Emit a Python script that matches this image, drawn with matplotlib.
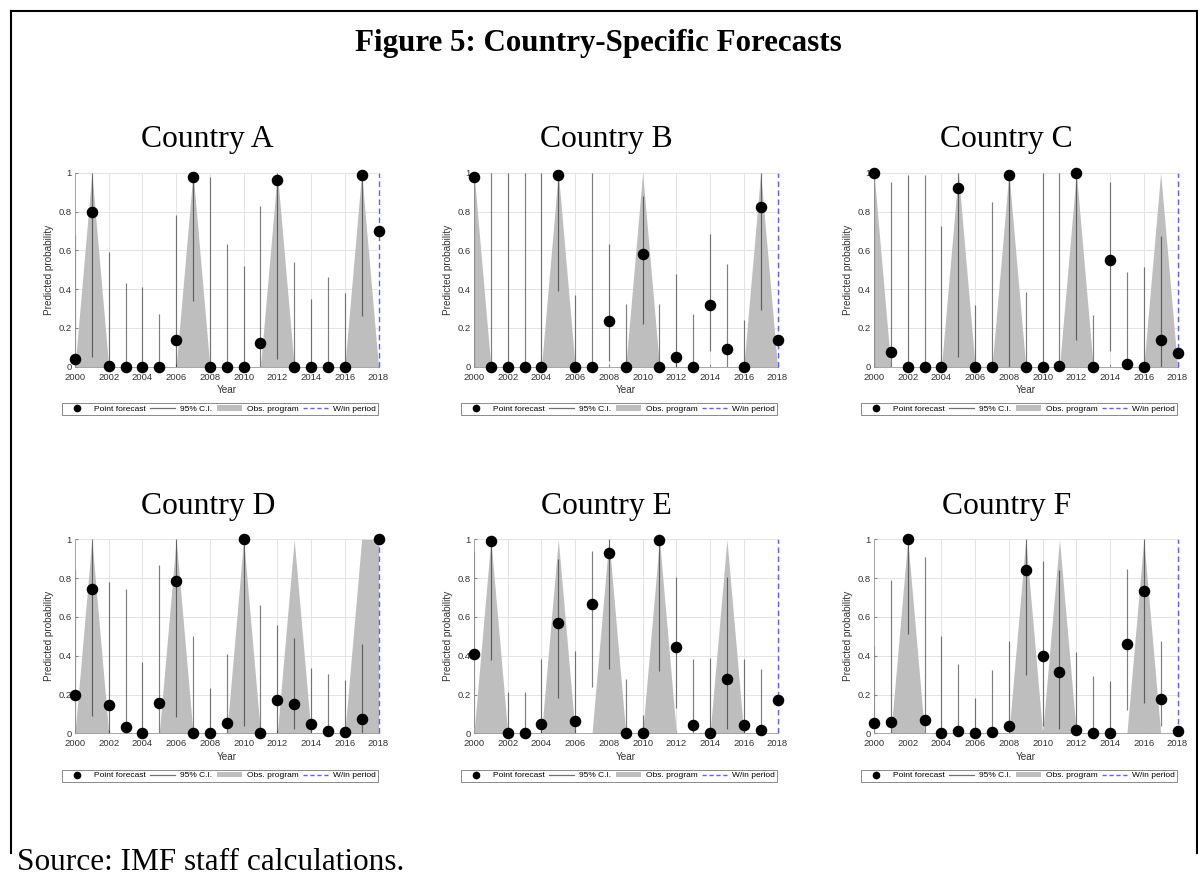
import numpy as np
import matplotlib
matplotlib.use("Agg")
import matplotlib.pyplot as plt
from matplotlib.lines import Line2D
from matplotlib.patches import Patch

nan = np.nan
years = list(range(2000, 2019))

# ---- Country A ----
a_point = [0.04, 0.795, 0.005, 0.0, 0.0, 0.0, 0.14, 0.98, 0.0, 0.0, 0.0, 0.12, 0.96, 0.0, 0.0, 0.0, 0.0, 0.99, 0.70]
a_low   = [0.0, 0.05, 0.0, 0.0, 0.0, 0.0, 0.0, 0.34, 0.0, 0.0, 0.0, 0.0, 0.04, 0.0, 0.0, 0.0, 0.0, 0.26, nan]
a_high  = [0.68, 1.0, 0.59, 0.43, 0.41, 0.27, 0.78, 1.0, 0.98, 0.63, 0.52, 0.83, 1.0, 0.54, 0.35, 0.46, 0.38, 1.0, nan]
a_prog  = [0, 1, 0, 0, 0, 0, 0, 1, 0, 0, 0, 0, 1, 0, 0, 0, 0, 1, 0]

# ---- Country B ----
b_point = [0.98, 0.0, 0.0, 0.0, 0.0, 0.99, 0.0, 0.0, 0.235, 0.0, 0.58, 0.0, 0.048, 0.0, 0.32, 0.09, 0.0, 0.825, 0.14]
b_low   = [0.0, 0.0, 0.0, 0.0, 0.0, 0.39, 0.0, 0.0, 0.03, 0.0, 0.22, 0.0, 0.0, 0.0, 0.08, 0.0, 0.0, 0.29, nan]
b_high  = [1.0, 1.0, 1.0, 1.0, 1.0, 1.0, 0.37, 1.0, 0.635, 0.325, 0.88, 0.325, 0.48, 0.27, 0.685, 0.53, 0.24, 1.0, nan]
b_prog  = [1, 0, 0, 0, 0, 1, 0, 0, 0, 0, 1, 0, 0, 0, 0, 0, 0, 1, 0]

# ---- Country C ----
c_point = [1.0, 0.075, 0.0, 0.0, 0.0, 0.92, 0.0, 0.0, 0.99, 0.0, 0.0, 0.005, 1.0, 0.0, 0.55, 0.015, 0.0, 0.14, 0.07]
c_low   = [0.0, 0.0, 0.0, 0.0, 0.0, 0.05, 0.0, 0.0, 0.0, 0.0, 0.0, 0.0, 0.14, 0.0, 0.08, 0.0, 0.0, 0.0, nan]
c_high  = [1.0, 0.95, 0.99, 0.99, 0.725, 1.0, 0.32, 0.85, 1.0, 0.385, 1.0, 1.0, 1.0, 0.265, 0.95, 0.49, 0.515, 0.675, nan]
c_prog  = [1, 0, 0, 0, 0, 1, 0, 0, 1, 0, 0, 0, 1, 0, 0, 0, 0, 1, 0]

# ---- Country D ----
d_point = [0.198, 0.742, 0.146, 0.034, 0.0, 0.158, 0.787, 0.0, 0.0, 0.052, 1.0, 0.0, 0.17, 0.153, 0.05, 0.012, 0.005, 0.076, 1.0]
d_low   = [0.0, 0.09, 0.0, 0.0, 0.0, 0.0, 0.085, 0.0, 0.0, 0.0, 0.04, 0.0, 0.0, 0.02, 0.0, 0.0, 0.0, 0.0, nan]
d_high  = [0.84, 1.0, 0.78, 0.745, 0.365, 0.87, 1.0, 0.50, 0.235, 0.41, 1.0, 0.66, 0.56, 0.49, 0.335, 0.305, 0.275, 0.46, nan]
d_prog  = [0, 1, 0, 0, 0, 0, 1, 0, 0, 0, 1, 0, 0, 1, 0, 0, 0, 1, 1]

# ---- Country E ----
e_point = [0.41, 0.99, 0.0, 0.0, 0.048, 0.568, 0.065, 0.665, 0.93, 0.0, 0.0, 0.995, 0.445, 0.045, 0.003, 0.28, 0.045, 0.015, 0.17]
e_low   = [0.03, 0.38, 0.0, 0.0, 0.0, 0.18, 0.0, 0.24, 0.33, 0.0, 0.0, 0.32, 0.13, 0.0, 0.0, 0.02, 0.0, 0.0, nan]
e_high  = [0.94, 1.0, 0.215, 0.215, 0.385, 0.90, 0.425, 0.94, 1.0, 0.28, 0.095, 1.0, 0.805, 0.385, 0.39, 0.805, 0.385, 0.33, nan]
e_prog  = [0, 1, 0, 0, 0, 1, 0, 0, 1, 0, 0, 1, 0, 0, 0, 1, 0, 0, 0]

# ---- Country F ----
f_point = [0.055, 0.06, 1.0, 0.07, 0.002, 0.012, 0.002, 0.007, 0.04, 0.84, 0.40, 0.315, 0.015, 0.0, 0.003, 0.46, 0.735, 0.175, 0.012]
f_low   = [0.0, 0.0, 0.51, 0.0, 0.0, 0.0, 0.0, 0.0, 0.0, 0.30, 0.04, 0.02, 0.0, 0.0, 0.0, 0.12, 0.155, 0.04, nan]
f_high  = [0.45, 0.79, 1.0, 0.91, 0.50, 0.355, 0.18, 0.325, 0.475, 1.0, 0.89, 0.84, 0.42, 0.295, 0.27, 0.845, 1.0, 0.475, nan]
f_prog  = [0, 0, 1, 0, 0, 0, 0, 0, 0, 1, 0, 1, 0, 0, 0, 0, 1, 0, 0]

countries = ["Country A", "Country B", "Country C", "Country D", "Country E", "Country F"]
points = [a_point, b_point, c_point, d_point, e_point, f_point]
lows = [a_low, b_low, c_low, d_low, e_low, f_low]
highs = [a_high, b_high, c_high, d_high, e_high, f_high]
progs = [a_prog, b_prog, c_prog, d_prog, e_prog, f_prog]

xticks = list(range(2000, 2019, 2))
yticks = [0, 0.2, 0.4, 0.6, 0.8, 1]
ytick_labels = ["0", "0.2", "0.4", "0.6", "0.8", "1"]
legend_labels = ["Point forecast", "95% C.I.", "Obs. program", "W/in period"]

W, H = 1198, 882
fig = plt.figure(figsize=(W / 100, H / 100), dpi=100)
serif = "Liberation Serif"
sans = "Liberation Sans"

area_color = "#bebebe"
blue = "#5f5fff"

col_left = [75, 474, 874]
row_top = [172.7, 539.3]
ax_w = 303.5
ax_h = 194.0

for i, name in enumerate(countries):
    r, c = divmod(i, 3)
    left = col_left[c] / W
    bottom = 1 - (row_top[r] + ax_h) / H
    ax = fig.add_axes([left, bottom, ax_w / W, ax_h / H])
    ax.set_axisbelow(True)
    ax.grid(True, color="#e3e3e3", lw=0.7)
    ax.fill_between(years, 0, progs[i], color=area_color, lw=0, zorder=1)
    ax.vlines(years, lows[i], highs[i], color="k", alpha=0.5, lw=0.85, zorder=2)
    ax.plot(years, points[i], "o", color="k", ms=7.3, zorder=4, clip_on=False)
    ax.plot([2018, 2018], [0, 1], color=blue, lw=1.0, ls=(0, (4, 2.5)), zorder=3, clip_on=False)
    ax.set_xlim(2000, 2018)
    ax.set_ylim(0, 1)
    ax.set_xticks(xticks)
    ax.set_yticks(yticks)
    ax.set_yticklabels(ytick_labels)
    ax.tick_params(labelsize=6.8, length=2, direction="in", color="#888888",
                   labelcolor="#333333")
    ax.tick_params(axis="x", pad=4.2)
    ax.tick_params(axis="y", pad=2.5)
    for lab in ax.get_xticklabels() + ax.get_yticklabels():
        lab.set_family(sans)
    for s in ["top", "right"]:
        ax.spines[s].set_visible(False)
    for s in ["left", "bottom"]:
        ax.spines[s].set_color("#999999")
        ax.spines[s].set_linewidth(0.6)
    ax.set_xlabel("Year", fontsize=7.2, family=sans, color="#333333", labelpad=2.5)
    ax.set_ylabel("Predicted probability", fontsize=7.2, family=sans, color="#333333", labelpad=3)

    handles = [
        Line2D([], [], marker="o", color="k", ls="none", ms=4.5),
        Line2D([], [], color="#707070", lw=0.9),
        Patch(facecolor=area_color, edgecolor="none"),
        Line2D([], [], color=blue, lw=1.0, ls=(0, (3, 2))),
    ]
    leg = ax.legend(handles, legend_labels, ncol=4, loc="upper left",
                    bbox_to_anchor=(-13 / ax_w, -0.257, (378 - 62) / ax_w, 0.07),
                    mode="expand", prop={"family": sans, "size": 6.0},
                    frameon=True, fancybox=False, edgecolor="#555555",
                    handlelength=3.0, handletextpad=0.6, columnspacing=0.8,
                    borderpad=0.25, borderaxespad=0)
    leg.get_frame().set_linewidth(0.6)

    # panel title
    cx = (col_left[c] + ax_w / 2 - 19) / W
    base = (147 if r == 0 else 513.6)
    fig.text(cx, 1 - base / H, name, ha="center", va="baseline",
             family=serif, fontsize=22.8)

fig.text(0.4996, 1 - 51 / H, "Figure 5: Country-Specific Forecasts", ha="center",
         va="baseline", family=serif, fontsize=22.3, fontweight="bold")
fig.text(17 / W, 1 - 870 / H, "Source: IMF staff calculations.", ha="left",
         va="baseline", family=serif, fontsize=22.5)

# page border
bx0, by0, bx1, by1 = 11, 11, 1196.5, 853
for xs, ys in [((bx0, bx0), (by0, by1)), ((bx0, bx1), (by0, by0)), ((bx1, bx1), (by0, by1))]:
    fig.add_artist(Line2D([x / W for x in xs], [1 - y / H for y in ys],
                          color="k", lw=1.5, transform=fig.transFigure))

fig.savefig("out.png", dpi=100)
